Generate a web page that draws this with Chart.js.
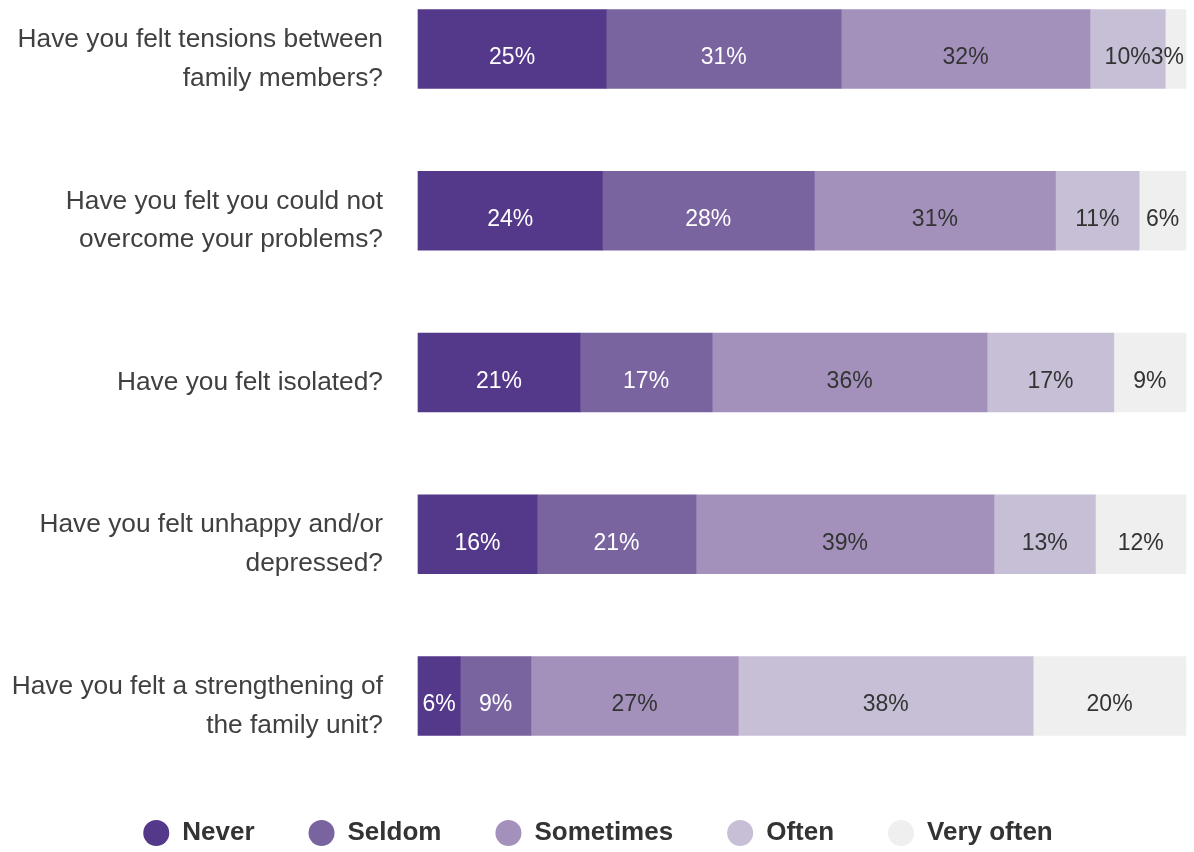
<!DOCTYPE html>
<html>
<head>
<meta charset="utf-8">
<script src="https://cdn.jsdelivr.net/npm/chart.js@4.4.1/dist/chart.umd.min.js"></script>
<style>
  body { margin: 0; background: #fff; }
  #wrap { width: 1194px; height: 852px; position: relative; }
</style>
</head>
<body>
<div id="wrap"><canvas id="SurveyChart"></canvas></div>
<script>
const questions = [
    ["Have you felt tensions between", "family members?"],
    ["Have you felt you could not", "overcome your problems?"],
    ["Have you felt isolated?"],
    ["Have you felt unhappy and/or", "depressed?"],
    ["Have you felt a strengthening of", "the family unit?"]
];
const answers = ["Never", "Seldom", "Sometimes", "Often", "Very often"];

// percent of respondents per question
const never     = [24.5, 24.0, 21.1, 15.5, 5.5];
const seldom    = [30.6, 27.6, 17.2, 20.7, 9.2];
const sometimes = [32.4, 31.4, 35.8, 38.8, 27.0];
const often     = [9.8, 10.9, 16.5, 13.2, 38.4];
const veryOften = [2.7, 6.1, 9.4, 11.8, 19.9];

const colors = ["#54388a", "#7964a0", "#a391bc", "#c7bfd6", "#efefef"];
const labelColors = ["#ffffff", "#ffffff", "#333333", "#333333", "#333333"];

const series = [never, seldom, sometimes, often, veryOften];

// draws the % text inside each segment
const barLabels = {
    id: "barLabels",
    afterDatasetsDraw(chart) {
        const ctx = chart.ctx;
        const area = chart.chartArea;
        ctx.save();
        ctx.font = '23px "Liberation Sans", Arial, sans-serif';
        ctx.textAlign = "center";
        ctx.textBaseline = "middle";
        chart.data.datasets.forEach((ds, i) => {
            chart.getDatasetMeta(i).data.forEach((bar, j) => {
                const text = Math.round(ds.data[j]) + "%";
                const w = ctx.measureText(text).width;
                const c = bar.getCenterPoint();
                const x = Math.min(c.x, area.right - 2 - w / 2);
                ctx.fillStyle = labelColors[i];
                ctx.fillText(text, x, c.y + 9);
            });
        });
        ctx.restore();
    }
};

const chart = new Chart(document.getElementById("SurveyChart").getContext("2d"), {
    type: "bar",
    data: {
        labels: questions,
        datasets: answers.map((name, i) => ({
            label: name,
            data: series[i],
            backgroundColor: colors[i],
            borderWidth: 0,
            barThickness: 79,
            clip: false
        }))
    },
    options: {
        indexAxis: "y",
        responsive: true,
        maintainAspectRatio: false,
        animation: false,
        layout: { padding: { left: 10, right: 8, top: 49, bottom: -4 } },
        scales: {
            x: {
                stacked: true,
                min: 0,
                max: 100,
                display: false
            },
            y: {
                stacked: true,
                offset: false,
                grid: { display: true, drawOnChartArea: false, drawTicks: true, tickLength: 35, color: "rgba(0,0,0,0)" },
                border: { display: false },
                afterFit(scale) { scale.width = 408; },
                ticks: {
                    padding: 0,
                    labelOffset: 10,
                    color: "#404040",
                    font: { family: '"Liberation Sans", Arial, sans-serif', size: 26.3, lineHeight: 1.47 }
                }
            }
        },
        plugins: {
            tooltip: { enabled: false },
            legend: {
                position: "bottom",
                title: { display: true, text: "", font: { size: 10, lineHeight: 1 }, padding: { top: 60, bottom: 0 } },
                labels: {
                    usePointStyle: true,
                    pointStyle: "circle",
                    boxWidth: 26,
                    boxHeight: 18.4,
                    padding: 54,
                    color: "#333333",
                    font: { family: '"Liberation Sans", Arial, sans-serif', size: 26, weight: "bold" }
                }
            }
        }
    },
    plugins: [barLabels]
});
</script>
</body>
</html>
